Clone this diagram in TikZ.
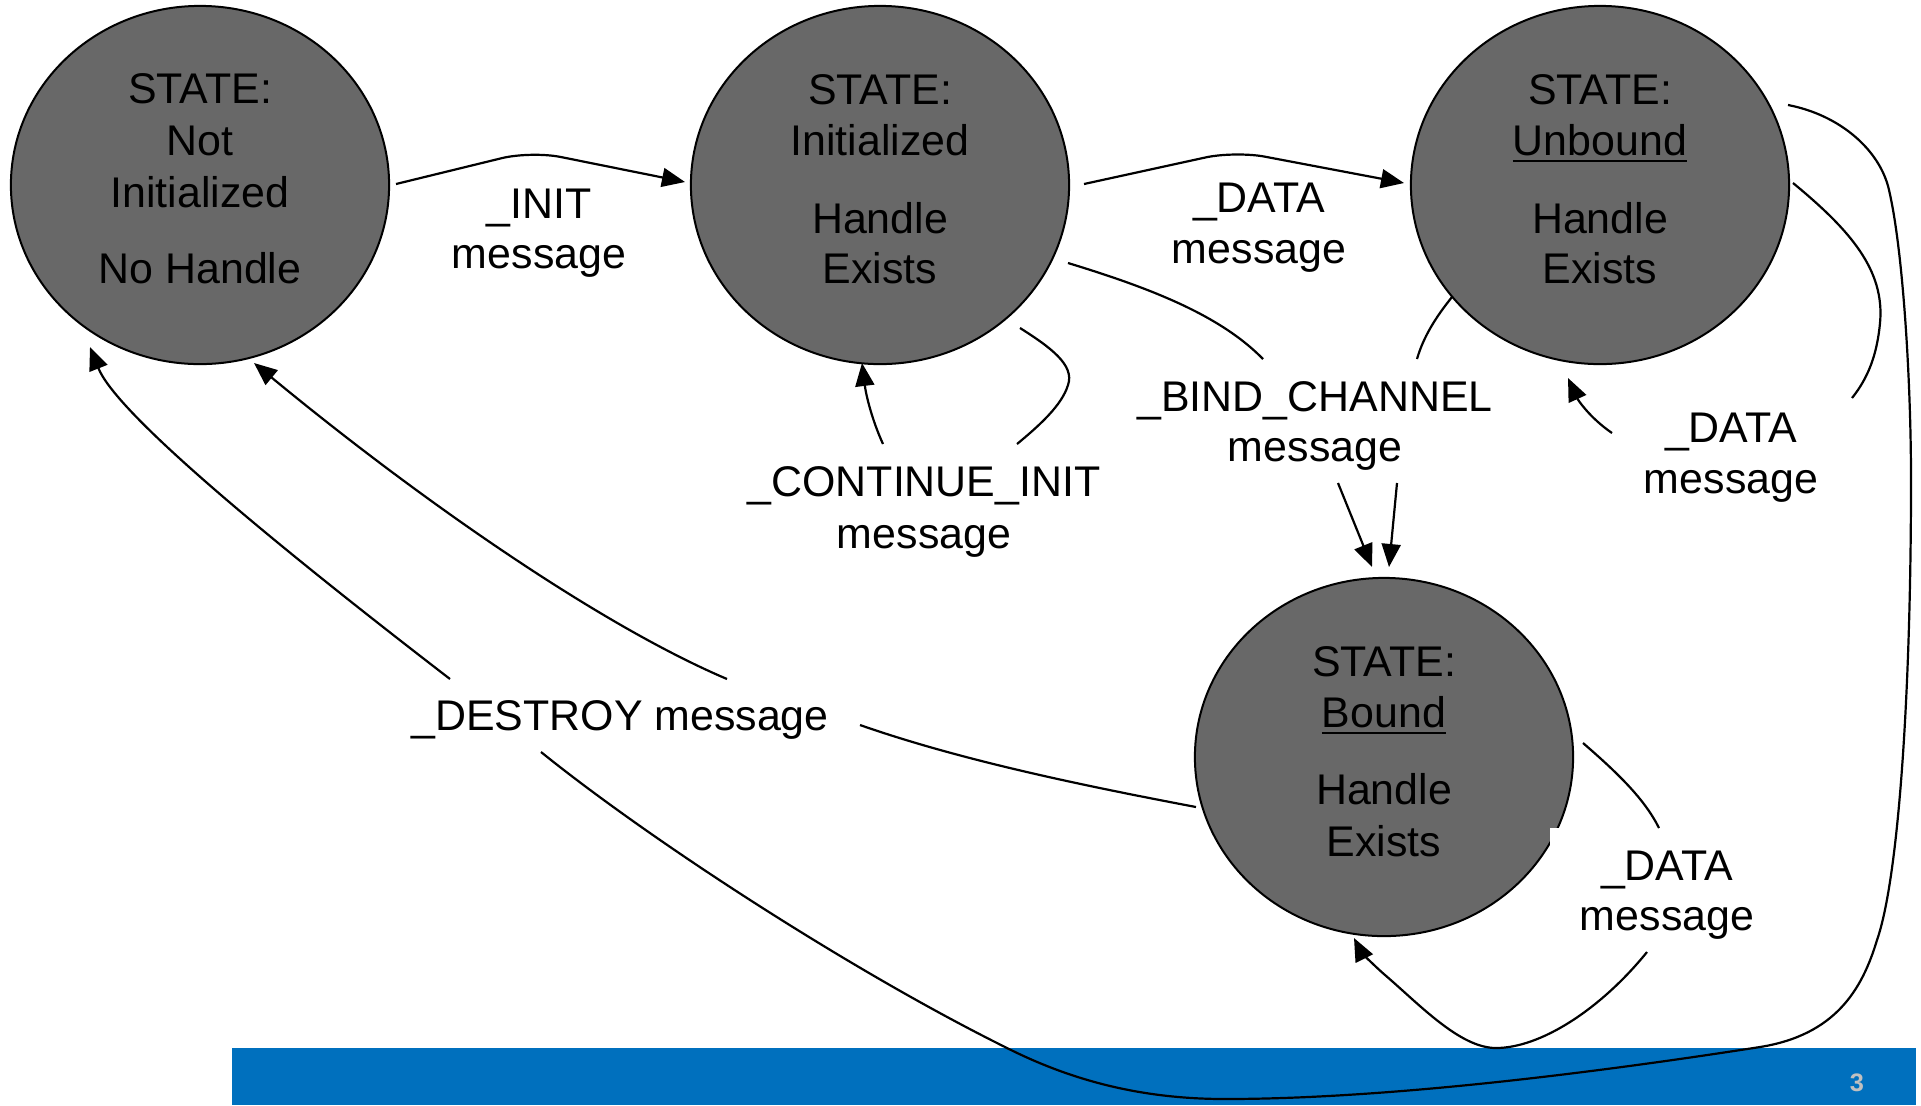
\documentclass[tikz,border=0pt]{standalone}
\usepackage{fontspec}
\setmainfont{Liberation Sans}
\usetikzlibrary{shapes.geometric,arrows.meta}
\definecolor{stategray}{RGB}{104,104,104}
\definecolor{barblue}{RGB}{0,112,190}
\definecolor{pagegray}{RGB}{192,192,192}
\newcommand\myul[1]{\setbox0\hbox{#1}\rlap{\rule[-2pt]{\wd0}{0.6pt}}\box0}
\begin{document}
\begin{tikzpicture}[x=0.01cm,y=-0.01cm,
  state/.style={ellipse, draw=black, line width=0.2mm, fill=stategray,
    minimum width=3.78cm, minimum height=3.58cm, inner sep=0pt},
  txt/.style={font=\fontsize{12.2pt}{14.6pt}\selectfont, inner sep=0pt, anchor=base},
  conn/.style={draw=black, line width=0.22mm},
  arr/.style={conn, -{Triangle[length=2.3mm,width=1.9mm]}},
]
\useasboundingbox (0,0) rectangle (1921,1105);
\fill[white] (0,0) rectangle (1921,1105);
% footer bar
\fill[barblue] (232,1048) rectangle (1916,1105);
\node[font=\fontsize{7.2pt}{8pt}\selectfont\bfseries, text=pagegray, inner sep=0pt] (pg) at (1857,1083) {3};

% states
\node[state] (c1) at (200,185) {};
\node[state] (c2) at (880,185) {};
\node[state] (c3) at (1600,185) {};
\node[state] (c4) at (1384,757) {};
\fill[white] (1550,828) rectangle (1590,880);

% state texts
\node[txt] (c1a) at (200,103) {STATE:};
\node[txt] (c1b) at (200,155) {Not};
\node[txt] (c1c) at (200,207) {Initialized};
\node[txt] (c1d) at (200,283) {No Handle};

\node[txt] (c2a) at (880,104) {STATE:};
\node[txt] (c2b) at (880,155) {Initialized};
\node[txt] (c2c) at (880,233) {Handle};
\node[txt] (c2d) at (880,283) {Exists};

\node[txt] (c3a) at (1600,104) {STATE:};
\node[txt] (c3b) at (1600,155) {\myul{Unbound}};
\node[txt] (c3c) at (1600,233) {Handle};
\node[txt] (c3d) at (1600,283) {Exists};

\node[txt] (c4a) at (1384,676) {STATE:};
\node[txt] (c4b) at (1384,727) {\myul{Bound}};
\node[txt] (c4c) at (1384,804) {Handle};
\node[txt] (c4d) at (1384,856) {Exists};

% labels
\node[txt] (initA) at (539,218) {\_INIT};
\node[txt] (initB) at (539,268) {message};
\node[txt] (dataA) at (1259,212) {\_DATA};
\node[txt] (dataB) at (1259,263) {message};
\node[txt] (bindA) at (1315,411) {\_BIND\_CHANNEL};
\node[txt] (bindB) at (1315,461) {message};
\node[txt] (contA) at (924,496) {\_CONTINUE\_INIT};
\node[txt] (contB) at (924,548) {message};
\node[txt] (rdataA) at (1731,442) {\_DATA};
\node[txt] (rdataB) at (1731,493) {message};
\node[txt] (bdataA) at (1667,880) {\_DATA};
\node[txt] (bdataB) at (1667,930) {message};
\node[txt] (destroy) at (620,730) {\_DESTROY message};

% connector end points
\coordinate (i1) at (396,184);  \coordinate (i2) at (531,151);  \coordinate (i3) at (685,182);
\coordinate (d1) at (1084,184); \coordinate (d2) at (1235,151); \coordinate (d3) at (1404,183);
\coordinate (k1) at (1020,328); \coordinate (k2) at (1017,444);
\coordinate (k3) at (883,444);  \coordinate (k4) at (862,363);
\coordinate (b1) at (1068,263); \coordinate (b2) at (1263,359);
\coordinate (b3) at (1338,483); \coordinate (b4) at (1372,567);
\coordinate (u1) at (1452,297); \coordinate (u2) at (1417,359);
\coordinate (u3) at (1397,483); \coordinate (u4) at (1389,567);
\coordinate (r1) at (1793,183); \coordinate (r2) at (1852,398);
\coordinate (r3) at (1612,433); \coordinate (r4) at (1568,378);
\coordinate (s1) at (1583,743); \coordinate (s2) at (1659,828);
\coordinate (s3) at (1647,952); \coordinate (s4) at (1354,938);
\coordinate (g1) at (1788,105); \coordinate (g2) at (541,752);
\coordinate (g3) at (450,679);  \coordinate (g4) at (90,347);
\coordinate (h1) at (727,679);  \coordinate (h2) at (254,363);
\coordinate (e1) at (1196,807); \coordinate (e2) at (860,725);

% _INIT
\draw[arr, rounded corners=3mm] (i1) -- (i2) -- (i3);
% _DATA c2 -> c3
\draw[arr, rounded corners=3mm] (d1) -- (d2) -- (d3);
% _CONTINUE_INIT loop
\draw[conn] (k1) .. controls (1050,347) and (1075,365) .. (1068,385)
               .. controls (1062,405) and (1040,425) .. (k2);
\draw[arr] (k3) .. controls (872,420) and (866,395) .. (k4);
% _BIND_CHANNEL
\draw[conn] (b1) .. controls (1150,288) and (1220,315) .. (b2);
\draw[arr] (b3) -- (b4);
\draw[conn] (u1) .. controls (1435,318) and (1423,338) .. (u2);
\draw[arr] (u3) -- (u4);
% _DATA loop on Unbound
\draw[conn] (r1) .. controls (1850,230) and (1885,270) .. (1880,323)
               .. controls (1877,355) and (1868,378) .. (r2);
\draw[arr] (r3) .. controls (1590,418) and (1578,400) .. (r4);
% _DATA loop on Bound
\draw[conn] (s1) .. controls (1620,775) and (1645,800) .. (s2);
\draw[arr] (s3) .. controls (1600,1010) and (1540,1048) .. (1496,1048)
               .. controls (1460,1048) and (1420,1005) .. (1385,975)
               .. controls (1370,962) and (1360,950) .. (s4);
% big loop Unbound -> _DESTROY
\draw[conn] (g1) .. controls (1840,115) and (1880,150) .. (1889,190)
               .. controls (1903,250) and (1911,380) .. (1911,480)
               .. controls (1911,700) and (1898,880) .. (1877,940)
               .. controls (1862,990) and (1835,1035) .. (1760,1047)
               .. controls (1580,1075) and (1380,1099) .. (1225,1099)
               .. controls (1140,1099) and (1070,1080) .. (1005,1047)
               .. controls (850,970) and (650,840) .. (g2);
\draw[arr] (g3) .. controls (250,525) and (115,410) .. (g4);
% Bound -> _DESTROY -> Not Initialized
\draw[conn] (e1) .. controls (1080,785) and (960,760) .. (e2);
\draw[arr] (h1) .. controls (600,625) and (420,500) .. (h2);
\end{tikzpicture}
\end{document}
